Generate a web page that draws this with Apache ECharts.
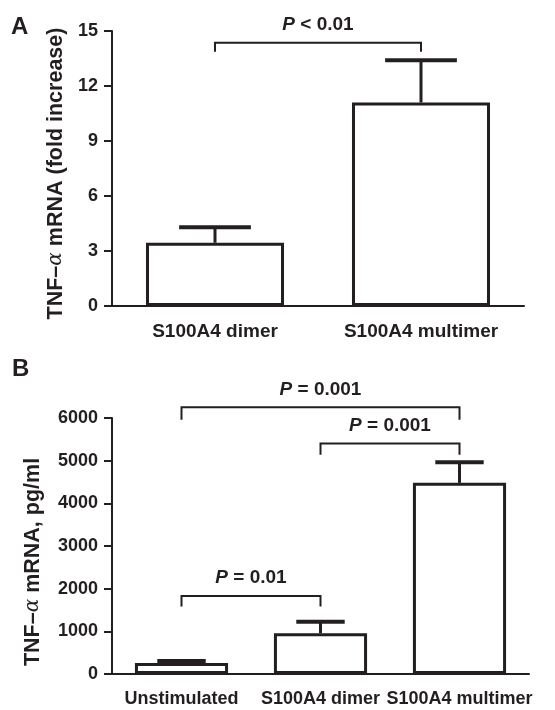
<!DOCTYPE html>
<html>
<head>
<meta charset="utf-8">
<script src="https://cdn.jsdelivr.net/npm/echarts@6/dist/echarts.min.js"></script>
<style>html,body{margin:0;padding:0;background:#fff}#c{width:555px;height:710px}</style>
</head>
<body>
<div id="c"></div>
<script>
// ---- Panel A data ----
const catsA = ['S100A4 dimer', 'S100A4 multimer'];
const meanA = [3.45, 11.1];
const errA = [4.3, 13.4];
const ticksA = { min: 0, max: 15, interval: 3 };
const bracketsA = [[0, 1, 14.36, 13.87]];
const pLabelsA = ['{i|P} < 0.01'];

// ---- Panel B data ----
const catsB = ['Unstimulated', 'S100A4 dimer', 'S100A4 multimer'];
const meanB = [255, 955, 4480];
const errB = [305, 1225, 4960];
const ticksB = { min: 0, max: 6000, interval: 1000 };
const bracketsB = [[0, 2, 6250, 5960], [1, 2, 5400, 5140], [0, 1, 1830, 1580]];
const pLabelsB = ['{i|P} = 0.001', '{i|P} = 0.001', '{i|P} = 0.01'];

const INK = '#231f20';
const FONT = '"Liberation Sans", Arial, Helvetica, sans-serif';
const BARW = 0.67;

function errRender(params, api) {
  const i = api.value(0), v = api.value(1), e = api.value(2);
  const base = api.coord([i, v]);
  const top = api.coord([i, e]);
  const bw = api.size([1, 0])[0];
  const half = bw * BARW * 0.26;
  return { type: 'group', children: [
    { type: 'line', shape: { x1: base[0], y1: base[1], x2: top[0], y2: top[1] }, style: { stroke: INK, lineWidth: 3 } },
    { type: 'line', shape: { x1: top[0] - half, y1: top[1], x2: top[0] + half, y2: top[1] }, style: { stroke: INK, lineWidth: 4 } }
  ]};
}

function makeBracketRender(labels) {
  return function (params, api) {
    const a = api.value(0), b = api.value(1), yl = api.value(2), yt = api.value(3);
    const p1 = api.coord([a, yl]), p2 = api.coord([b, yl]);
    const t1 = api.coord([a, yt]), t2 = api.coord([b, yt]);
    return { type: 'group', children: [
      { type: 'polyline', shape: { points: [[t1[0], t1[1]], [p1[0], p1[1]], [p2[0], p2[1]], [t2[0], t2[1]]] },
        style: { stroke: INK, lineWidth: 2, fill: null } },
      { type: 'text', style: {
          x: (p1[0] + p2[0]) / 2, y: p1[1] - 18, text: labels[params.dataIndex],
          align: 'center', verticalAlign: 'middle',
          fontFamily: FONT, fontWeight: 'bold', fontSize: 19, fill: INK,
          rich: { i: { fontStyle: 'italic', fontWeight: 'bold', fontFamily: FONT, fontSize: 19, fill: INK } }
        } }
    ]};
  };
}

const tickText = { color: INK, fontFamily: FONT, fontWeight: 'bold', fontSize: 18 };
const nameRich = { a: { fontFamily: '"DejaVu Serif", serif', fontStyle: 'italic', fontWeight: 'normal', fontSize: 20, color: INK } };

function xAxisCfg(idx, cats, margin, size) {
  return {
    type: 'category', gridIndex: idx, data: cats,
    axisLine: { lineStyle: { color: INK, width: 2 } },
    axisTick: { alignWithLabel: true, length: 8, lineStyle: { color: INK, width: 2 } },
    axisLabel: { margin: margin, interval: 0, color: INK, fontFamily: FONT, fontWeight: 'bold', fontSize: size }
  };
}
function yAxisCfg(idx, t, name, gap, pad) {
  return {
    type: 'value', gridIndex: idx, min: t.min, max: t.max, interval: t.interval,
    splitLine: { show: false },
    axisLine: { show: true, lineStyle: { color: INK, width: 2 } },
    axisTick: { show: true, length: 8, lineStyle: { color: INK, width: 2 } },
    axisLabel: Object.assign({ margin: 14, formatter: (v) => String(v) }, tickText),
    name: name, nameLocation: 'middle', nameGap: gap,
    nameTextStyle: { color: INK, fontFamily: FONT, fontWeight: 'bold', fontSize: 21.5, padding: pad, rich: nameRich }
  };
}

const option = {
  animation: false,
  backgroundColor: '#fff',
  grid: [
    { left: 112, top: 31, right: 31, bottom: 404 },
    { left: 112, top: 418, right: 26, bottom: 36 }
  ],
  xAxis: [xAxisCfg(0, catsA, 16, 19), xAxisCfg(1, catsB, 16, 18)],
  yAxis: [
    yAxisCfg(0, ticksA, 'TNF–{a|α} mRNA (fold increase)', 43, [0, 10, 0, 0]),
    yAxisCfg(1, ticksB, 'TNF–{a|α} mRNA, pg/ml', 68, [0, 32, 0, 0])
  ],
  graphic: [
    { type: 'text', left: 11, top: 15, style: { text: 'A', fontFamily: FONT, fontWeight: 'bold', fontSize: 24, fill: INK } },
    { type: 'text', left: 12, top: 357, style: { text: 'B', fontFamily: FONT, fontWeight: 'bold', fontSize: 24, fill: INK } }
  ],
  series: [
    { type: 'bar', xAxisIndex: 0, yAxisIndex: 0, data: meanA, barWidth: '67%',
      itemStyle: { color: '#fff', borderColor: INK, borderWidth: 3 } },
    { type: 'custom', xAxisIndex: 0, yAxisIndex: 0, renderItem: errRender, clip: false,
      data: meanA.map((v, i) => [i, v, errA[i]]) },
    { type: 'custom', xAxisIndex: 0, yAxisIndex: 0, renderItem: makeBracketRender(pLabelsA), clip: false,
      data: bracketsA },
    { type: 'bar', xAxisIndex: 1, yAxisIndex: 1, data: meanB, barWidth: '67%',
      itemStyle: { color: '#fff', borderColor: INK, borderWidth: 3 } },
    { type: 'custom', xAxisIndex: 1, yAxisIndex: 1, renderItem: errRender, clip: false,
      data: meanB.map((v, i) => [i, v, errB[i]]) },
    { type: 'custom', xAxisIndex: 1, yAxisIndex: 1, renderItem: makeBracketRender(pLabelsB), clip: false,
      data: bracketsB }
  ]
};

const chart = echarts.init(document.getElementById('c'), null, { renderer: 'canvas' });
chart.setOption(option);
</script>
</body>
</html>
